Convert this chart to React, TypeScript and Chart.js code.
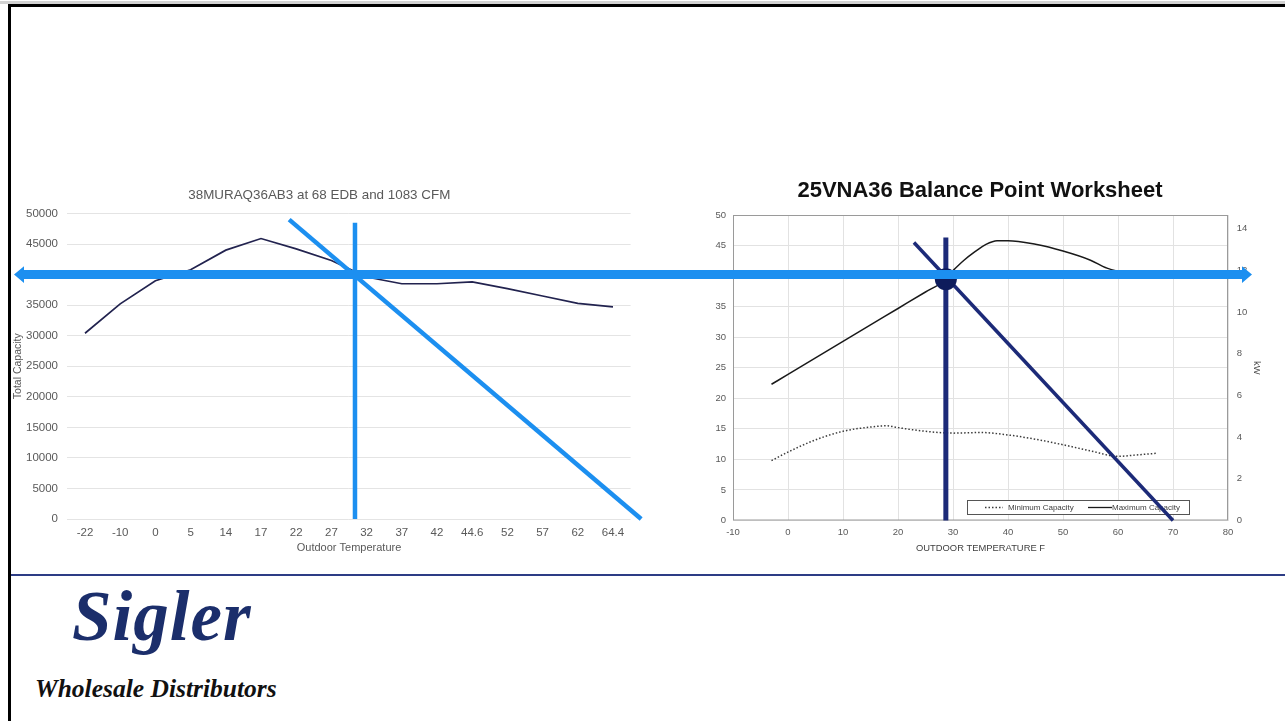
import React, { useEffect, useRef } from "react";
import { Chart, registerables } from "chart.js";

Chart.register(...registerables);

// ---------- Left chart data (38MURAQ36AB3) ----------
const leftTemps = ["-22", "-10", "0", "5", "14", "17", "22", "27", "32", "37", "42", "44.6", "52", "57", "62", "64.4"];
const leftCapacity = [30400, 35200, 39000, 40800, 44000, 45900, 44200, 42300, 39600, 38500, 38500, 38800, 37700, 36500, 35300, 34700];
// overlay lines drawn in category-index units
const leftBalanceX = [7.67, 7.67];
const leftBalanceY = [0, 48500];
const leftLoadX = [5.8, 15.8];
const leftLoadY = [49000, 0];
const balanceCapacity = 40000;

// ---------- Right chart data (25VNA36) ----------
const maxCapTemps = [-3, 0, 5, 10, 15, 20, 25, 28, 30, 32, 34, 36, 38, 40, 45, 50, 55, 58, 62, 67];
const maxCapValues = [22.3, 23.9, 26.6, 29.3, 32.0, 34.7, 37.4, 39.0, 40.9, 42.6, 44.0, 45.2, 45.8, 45.8, 45.2, 44.1, 42.6, 41.3, 40.5, 40.2];
const minCapTemps = [-3, 0, 5, 10, 15, 18, 20, 25, 30, 35, 40, 45, 50, 55, 60, 63, 67];
const minCapValues = [9.8, 11.2, 13.2, 14.6, 15.3, 15.5, 15.2, 14.6, 14.3, 14.4, 14.0, 13.3, 12.4, 11.4, 10.5, 10.7, 11.0];
const rightBalanceX = [28.7, 28.7];
const rightBalanceY = [0, 46.3];
const rightLoadX = [22.9, 70];
const rightLoadY = [45.5, 0];
const balancePoint = { x: 28.7, y: 39.5 };
const kwPerKbtu = 1 / 3.412;

const FONT = "'Liberation Sans', Arial, sans-serif";
const LIGHT_BLUE = "#1c8ff0";
const NAVY = "#1c2a78";
const GREY_TEXT = "#595959";

const ARROW_LEFT_X = 14;
const ARROW_RIGHT_X = 1252;

const arrowPlugin = {
  id: "balanceArrow",
  afterDraw(chart: any) {
    const ctx = chart.ctx;
    const y = chart.scales.y.getPixelForValue(balanceCapacity);
    const head = 10;
    const hh = 8.3;
    const bh = 4.5;
    const x0 = ARROW_LEFT_X;
    const x1 = ARROW_RIGHT_X;
    ctx.save();
    ctx.fillStyle = LIGHT_BLUE;
    ctx.beginPath();
    ctx.moveTo(x0, y);
    ctx.lineTo(x0 + head, y - hh);
    ctx.lineTo(x0 + head, y - bh);
    ctx.lineTo(x1 - head, y - bh);
    ctx.lineTo(x1 - head, y - hh);
    ctx.lineTo(x1, y);
    ctx.lineTo(x1 - head, y + hh);
    ctx.lineTo(x1 - head, y + bh);
    ctx.lineTo(x0 + head, y + bh);
    ctx.lineTo(x0 + head, y + hh);
    ctx.closePath();
    ctx.fill();
    ctx.restore();
  },
};

const frameLegendPlugin = {
  id: "frameLegend",
  beforeDatasetsDraw(chart: any) {
    const ctx = chart.ctx;
    const ca = chart.chartArea;
    ctx.save();
    ctx.strokeStyle = "#9a9a9a";
    ctx.lineWidth = 1;
    ctx.strokeRect(ca.left + 0.5, ca.top + 0.5, ca.right - ca.left - 1, ca.bottom - ca.top - 1);

    // legend box inside plot
    const bx0 = ca.left + 234;
    const bx1 = ca.right - 38;
    const by0 = ca.bottom - 20.5;
    const by1 = ca.bottom - 5.5;
    const my = (by0 + by1) / 2;
    ctx.fillStyle = "#ffffff";
    ctx.fillRect(bx0, by0, bx1 - bx0, by1 - by0);
    ctx.strokeStyle = "#555555";
    ctx.strokeRect(bx0 + 0.5, by0 + 0.5, bx1 - bx0 - 1, by1 - by0 - 1);

    const minDs = chart.data.datasets.find((d: any) => d.label === "Minimum Capacity");
    const maxDs = chart.data.datasets.find((d: any) => d.label === "Maximum Capacity");
    ctx.font = `8px ${FONT}`;
    ctx.fillStyle = "#404040";
    ctx.textBaseline = "middle";
    ctx.textAlign = "left";

    ctx.strokeStyle = minDs.borderColor;
    ctx.lineWidth = 1.3;
    ctx.setLineDash(minDs.borderDash);
    ctx.beginPath();
    ctx.moveTo(bx0 + 18, my);
    ctx.lineTo(bx0 + 36, my);
    ctx.stroke();
    ctx.setLineDash([]);
    ctx.fillText(minDs.label, bx0 + 41, my);

    ctx.strokeStyle = maxDs.borderColor;
    ctx.beginPath();
    ctx.moveTo(bx0 + 121, my);
    ctx.lineTo(bx0 + 145, my);
    ctx.stroke();
    ctx.fillText(maxDs.label, bx0 + 145, my);
    ctx.restore();
  },
};

export default function App() {
  const leftRef = useRef<HTMLCanvasElement>(null);
  const rightRef = useRef<HTMLCanvasElement>(null);

  useEffect(() => {
    Chart.defaults.font.family = FONT;

    const right = new Chart(rightRef.current as HTMLCanvasElement, {
      type: "line",
      data: {
        datasets: [
          {
            label: "Balance point",
            data: [balancePoint],
            showLine: false,
            pointRadius: 11,
            pointBackgroundColor: "#0e1c5c",
            pointBorderWidth: 0,
            order: 0,
            clip: false,
          } as any,
          {
            label: "Balance temperature",
            data: rightBalanceX.map((x, i) => ({ x, y: rightBalanceY[i] })),
            borderColor: NAVY,
            borderWidth: 5,
            pointRadius: 0,
            order: 1,
            clip: false,
          },
          {
            label: "Building load",
            data: rightLoadX.map((x, i) => ({ x, y: rightLoadY[i] })),
            borderColor: NAVY,
            borderWidth: 3.5,
            pointRadius: 0,
            order: 1,
            clip: false,
          },
          {
            label: "Maximum Capacity",
            data: maxCapTemps.map((x, i) => ({ x, y: maxCapValues[i] })),
            borderColor: "#1a1a1a",
            borderWidth: 1.5,
            pointRadius: 0,
            cubicInterpolationMode: "monotone",
            order: 2,
          },
          {
            label: "Minimum Capacity",
            data: minCapTemps.map((x, i) => ({ x, y: minCapValues[i] })),
            borderColor: "#3a3a3a",
            borderWidth: 1.5,
            borderDash: [1.5, 2],
            pointRadius: 0,
            cubicInterpolationMode: "monotone",
            order: 2,
          },
        ],
      },
      options: {
        responsive: false,
        animation: false,
        devicePixelRatio: 1,
        events: [],
        layout: { padding: 0 },
        plugins: {
          legend: { display: false },
          tooltip: { enabled: false },
          title: {
            display: true,
            text: "25VNA36 Balance Point Worksheet",
            color: "#111111",
            font: { family: FONT, size: 22, weight: "bold" },
            padding: { top: 7.8, bottom: 10.8 },
          },
        },
        scales: {
          x: {
            type: "linear",
            min: -10,
            max: 80,
            ticks: { stepSize: 10, color: GREY_TEXT, font: { size: 9.5 }, padding: 5.8, maxRotation: 0 },
            grid: { color: "#e2e2e2", drawTicks: false },
            border: { display: false },
            title: {
              display: true,
              text: "OUTDOOR TEMPERATURE F",
              color: "#404040",
              font: { size: 9.4 },
              padding: { top: 0, bottom: 6 },
            },
            afterFit: (s: any) => {
              s.height = 39.5;
            },
          },
          y: {
            position: "left",
            min: 0,
            max: 50,
            ticks: { stepSize: 5, color: GREY_TEXT, font: { size: 9.5 }, padding: 7 },
            grid: { color: "#e2e2e2", drawTicks: false },
            border: { display: false },
            afterFit: (s: any) => {
              s.width = 43;
            },
          },
          y1: {
            position: "right",
            min: 0,
            max: 50 * kwPerKbtu,
            ticks: { stepSize: 2, includeBounds: false, color: GREY_TEXT, font: { size: 9.5 }, padding: 8.7 },
            grid: { display: false, drawTicks: false },
            border: { display: false },
            title: {
              display: true,
              text: "kW",
              color: "#404040",
              font: { size: 9.4 },
              padding: { top: 7.7, bottom: 0 },
            },
            afterFit: (s: any) => {
              s.width = 42;
            },
          },
        },
      } as any,
      plugins: [frameLegendPlugin],
    });

    const left = new Chart(leftRef.current as HTMLCanvasElement, {
      type: "line",
      data: {
        datasets: [
          {
            label: "Balance temperature",
            data: leftBalanceX.map((x, i) => ({ x, y: leftBalanceY[i] })),
            borderColor: LIGHT_BLUE,
            borderWidth: 4.5,
            pointRadius: 0,
            order: 0,
            clip: false,
          } as any,
          {
            label: "Building load",
            data: leftLoadX.map((x, i) => ({ x, y: leftLoadY[i] })),
            borderColor: LIGHT_BLUE,
            borderWidth: 4.5,
            pointRadius: [0, 5.5],
            pointBackgroundColor: LIGHT_BLUE,
            pointBorderColor: LIGHT_BLUE,
            pointBorderWidth: 0,
            order: 0,
            clip: false,
          },
          {
            label: "Total Capacity",
            data: leftCapacity.map((y, i) => ({ x: i, y })),
            borderColor: "#22234f",
            borderWidth: 1.7,
            pointRadius: 0,
            tension: 0,
            order: 1,
          },
        ],
      },
      options: {
        responsive: false,
        animation: false,
        devicePixelRatio: 1,
        events: [],
        layout: { padding: { left: 8, right: 654.4, top: 187, bottom: 166.4 } },
        plugins: {
          legend: { display: false },
          tooltip: { enabled: false },
          title: {
            display: true,
            text: "38MURAQ36AB3 at 68 EDB and 1083 CFM",
            color: GREY_TEXT,
            font: { family: FONT, size: 13.4, weight: "normal" },
            padding: { top: 0, bottom: 10.4 },
          },
        },
        scales: {
          x: {
            type: "linear",
            min: -0.5,
            max: leftTemps.length - 0.5,
            afterBuildTicks: (s: any) => {
              s.ticks = leftTemps.map((_, i) => ({ value: i }));
            },
            ticks: {
              autoSkip: false,
              maxRotation: 0,
              color: GREY_TEXT,
              font: { size: 11.5 },
              padding: 6.6,
              callback: (v: any) => leftTemps[v],
            },
            grid: { display: false, drawTicks: false },
            border: { display: false },
            title: {
              display: true,
              text: "Outdoor Temperature",
              color: GREY_TEXT,
              font: { size: 11 },
              padding: { top: 0, bottom: 0 },
            },
            afterFit: (s: any) => {
              s.height = 35.6;
            },
          },
          y: {
            min: 0,
            max: 50000,
            ticks: {
              stepSize: 5000,
              color: GREY_TEXT,
              font: { size: 11.5 },
              padding: 9.4,
              callback: (v: any) => String(v),
            },
            grid: { color: "#e4e4e4", drawTicks: false },
            border: { display: false },
            title: {
              display: true,
              text: "Total Capacity",
              color: GREY_TEXT,
              font: { size: 10.5 },
              padding: { top: 4, bottom: 0 },
            },
            afterFit: (s: any) => {
              s.width = 59.4;
            },
          },
        },
      } as any,
      plugins: [arrowPlugin],
    });

    return () => {
      left.destroy();
      right.destroy();
    };
  }, []);

  return (
    <div
      style={{
        position: "fixed",
        left: 0,
        top: 0,
        width: 1285,
        height: 721,
        background: "#ffffff",
        overflow: "hidden",
      }}
    >
      <div style={{ position: "absolute", left: 0, top: 1, width: 1285, height: 3, background: "#d2d2d2" }} />
      <div style={{ position: "absolute", left: 8, top: 4, width: 1277, height: 3, background: "#000000" }} />
      <div style={{ position: "absolute", left: 8, top: 4, width: 3, height: 717, background: "#000000" }} />
      <div style={{ position: "absolute", left: 11, top: 574, width: 1274, height: 2, background: "#2d3c85" }} />
      <canvas
        ref={rightRef}
        width={580}
        height={390}
        style={{ position: "absolute", left: 690, top: 170, width: 580, height: 390, zIndex: 1 }}
      />
      <canvas
        ref={leftRef}
        width={1285}
        height={721}
        style={{ position: "absolute", left: 0, top: 0, width: 1285, height: 721, zIndex: 2 }}
      />
      <div
        style={{
          position: "absolute",
          left: 72,
          top: 581,
          fontFamily: "'Liberation Serif', 'DejaVu Serif', serif",
          fontStyle: "italic",
          fontWeight: "bold",
          fontSize: 71,
          lineHeight: "71px",
          color: "#1b2e6b",
          letterSpacing: 1,
          whiteSpace: "nowrap",
        }}
      >
        Sigler
      </div>
      <div
        style={{
          position: "absolute",
          left: 35,
          top: 676,
          fontFamily: "'Liberation Serif', 'DejaVu Serif', serif",
          fontStyle: "italic",
          fontWeight: "bold",
          fontSize: 25.5,
          lineHeight: "25.5px",
          color: "#111111",
          whiteSpace: "nowrap",
        }}
      >
        Wholesale Distributors
      </div>
    </div>
  );
}
